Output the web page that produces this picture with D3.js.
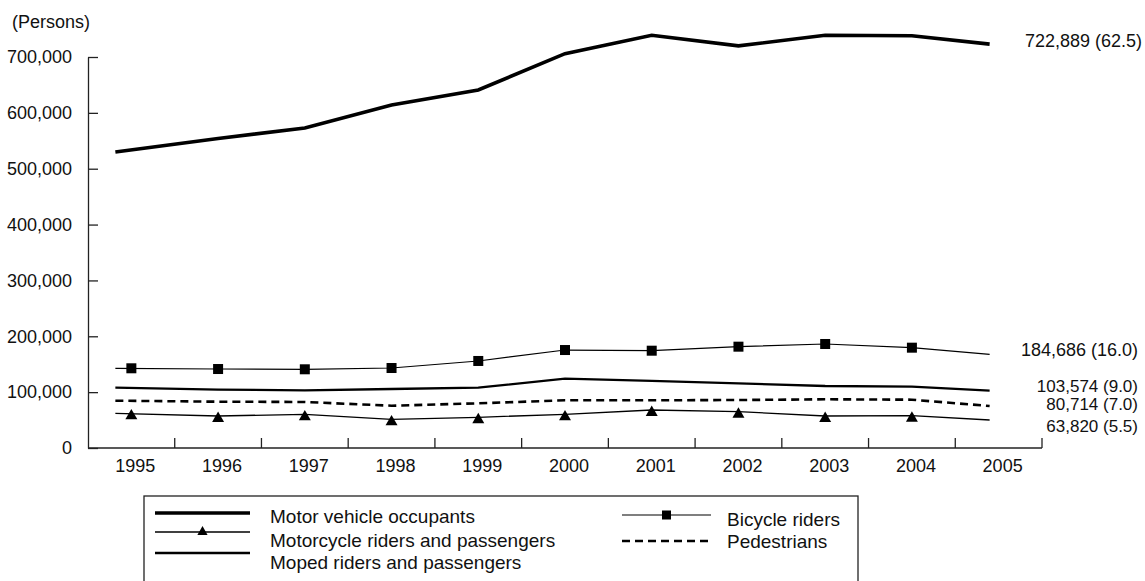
<!DOCTYPE html>
<html>
<head>
<meta charset="utf-8">
<script src="https://cdn.jsdelivr.net/npm/d3@7"></script>
<style>
  html, body { margin: 0; padding: 0; background: #fff; }
  svg { display: block; font-family: "Liberation Sans", Arial, Helvetica, sans-serif; }
</style>
</head>
<body>
<svg id="chart" width="1145" height="581"></svg>
<script>
// ---------- data ----------
const years = ["1995","1996","1997","1998","1999","2000","2001","2002","2003","2004","2005"];
const motorVehicle = [530000, 554000, 573000, 614000, 641000, 706000, 739000, 720000, 739000, 738000, 723000];
const bicycle      = [142700, 141400, 140900, 143200, 155800, 175400, 174200, 181400, 186200, 179600, 167700];
const moped        = [108000, 104400, 103300, 105600, 108000, 124100, 120000, 115800, 111000, 109700, 102600];
const pedestrians  = [84700, 82900, 82400, 75700, 80000, 85400, 85400, 85900, 87200, 86500, 75200];
const motorcycle   = [62100, 57300, 60300, 51400, 55000, 60300, 68000, 65000, 57300, 57800, 50100];
const yTicks = [0, 100000, 200000, 300000, 400000, 500000, 600000, 700000];
const endLabels = ["722,889 (62.5)", "184,686 (16.0)", "103,574 (9.0)", "80,714 (7.0)", "63,820 (5.5)"];
const seriesNames = ["Motor vehicle occupants", "Bicycle riders", "Moped riders and passengers", "Pedestrians", "Motorcycle riders and passengers"];
const unitLabel = "(Persons)";

// ---------- setup ----------
const svg = d3.select("#chart");
const X0 = 88, X1 = 1042, Y0 = 448, Y1 = 57;
const x = d3.scaleBand().domain(years).range([X0, X1]);
const cx = d => x(d) + x.bandwidth() / 2;
const y = d3.scaleLinear().domain([0, 700000]).range([Y0, Y1]);
const fmt = d3.format(",");

const series = [
  { name: seriesNames[0], values: motorVehicle, width: 3.6, dash: null, marker: null, label: endLabels[0], labelDy: 2.5, labelX: 1142, fs: 18 },
  { name: seriesNames[1], values: bicycle, width: 1.2, dash: null, marker: "square", label: endLabels[1], labelDy: 1.5, labelX: 1138, fs: 18 },
  { name: seriesNames[2], values: moped, width: 2.3, dash: null, marker: null, label: endLabels[2], labelDy: 1.5, labelX: 1138, fs: 17 },
  { name: seriesNames[3], values: pedestrians, width: 2.6, dash: "8,5", marker: null, label: endLabels[3], labelDy: 4.5, labelX: 1138, fs: 17 },
  { name: seriesNames[4], values: motorcycle, width: 1.3, dash: null, marker: "triangle", label: endLabels[4], labelDy: 11.5, labelX: 1138, fs: 17 }
];

// ---------- y axis ----------
const yAxis = d3.axisLeft(y).tickValues(yTicks).tickFormat(fmt)
  .tickSizeInner(-10).tickSizeOuter(0).tickPadding(16);
const gy = svg.append("g").attr("transform", `translate(${X0},0)`).call(yAxis);
gy.select(".domain").attr("stroke", "#222").attr("stroke-width", 1.3);
gy.selectAll(".tick line").attr("stroke", "#222").attr("stroke-width", 1.3);
gy.selectAll(".tick text").attr("font-size", 18).attr("fill", "#111")
  .attr("font-family", "Liberation Sans, Arial, sans-serif");

svg.append("text").attr("x", 12).attr("y", 28).attr("font-size", 18).attr("fill", "#111").text(unitLabel);

// ---------- x axis ----------
const gx = svg.append("g");
gx.append("line").attr("x1", X0).attr("x2", X1).attr("y1", Y0).attr("y2", Y0)
  .attr("stroke", "#222").attr("stroke-width", 1.3);
const boundaries = years.slice(1).map(d => x(d)).concat([X1]);
gx.selectAll("line.xt").data(boundaries).enter().append("line").attr("class", "xt")
  .attr("x1", d => d).attr("x2", d => d).attr("y1", Y0).attr("y2", Y0 - 10)
  .attr("stroke", "#222").attr("stroke-width", 1.3);
gx.selectAll("text").data(years).enter().append("text")
  .attr("x", d => cx(d) + 4).attr("y", 472).attr("text-anchor", "middle")
  .attr("font-size", 18).attr("fill", "#111").text(d => d);

// ---------- lines ----------
const START_EXT = 16, END_PULL = 9;
function pts(vals) {
  return vals.map((v, i) => {
    let px = cx(years[i]);
    if (i === 0) px -= START_EXT;
    if (i === vals.length - 1) px -= END_PULL;
    return [px, y(v)];
  });
}
const line = d3.line();
series.forEach(s => {
  svg.append("path").attr("d", line(pts(s.values)))
    .attr("fill", "none").attr("stroke", "#000").attr("stroke-width", s.width)
    .attr("stroke-dasharray", s.dash).attr("stroke-linejoin", "miter");
  const mv = s.values.slice(0, s.values.length - 1);
  if (s.marker === "square") {
    svg.selectAll(null).data(mv).enter().append("rect")
      .attr("x", (d, i) => cx(years[i]) - 5).attr("y", d => y(d) - 5)
      .attr("width", 10).attr("height", 10).attr("fill", "#000");
  } else if (s.marker === "triangle") {
    const tri = d3.symbol().type(d3.symbolTriangle).size(62);
    svg.selectAll(null).data(mv).enter().append("path")
      .attr("d", tri())
      .attr("transform", (d, i) => `translate(${cx(years[i])},${y(d) + 2.5})`)
      .attr("fill", "#000");
  }
  svg.append("text").attr("x", s.labelX).attr("y", y(s.values[s.values.length - 1]) + s.labelDy)
    .attr("text-anchor", "end").attr("font-size", s.fs).attr("fill", "#111").text(s.label);
});

// ---------- legend ----------
const lg = svg.append("g");
lg.append("rect").attr("x", 144).attr("y", 496).attr("width", 714).attr("height", 100)
  .attr("fill", "none").attr("stroke", "#222").attr("stroke-width", 1.3);
const legendItems = [
  { s: series[0], lx1: 155, lx2: 250, ly: 513, tx: 270, ty: 523 },
  { s: series[4], lx1: 155, lx2: 250, ly: 532, tx: 270, ty: 547 },
  { s: series[2], lx1: 155, lx2: 250, ly: 553, tx: 270, ty: 569 },
  { s: series[1], lx1: 622, lx2: 711, ly: 515, tx: 727, ty: 526 },
  { s: series[3], lx1: 622, lx2: 711, ly: 541, tx: 727, ty: 548 }
];
legendItems.forEach(it => {
  lg.append("line").attr("x1", it.lx1).attr("x2", it.lx2).attr("y1", it.ly).attr("y2", it.ly)
    .attr("stroke", "#000").attr("stroke-width", it.s.width).attr("stroke-dasharray", it.s.dash);
  const mx = (it.lx1 + it.lx2) / 2;
  if (it.s.marker === "square") {
    lg.append("rect").attr("x", mx - 4.5).attr("y", it.ly - 4.5).attr("width", 9).attr("height", 9).attr("fill", "#000");
  } else if (it.s.marker === "triangle") {
    lg.append("path").attr("d", d3.symbol().type(d3.symbolTriangle).size(45)())
      .attr("transform", `translate(${mx},${it.ly})`).attr("fill", "#000");
  }
  lg.append("text").attr("x", it.tx).attr("y", it.ty).attr("font-size", 19).attr("fill", "#111").text(it.s.name);
});
</script>
</body>
</html>
